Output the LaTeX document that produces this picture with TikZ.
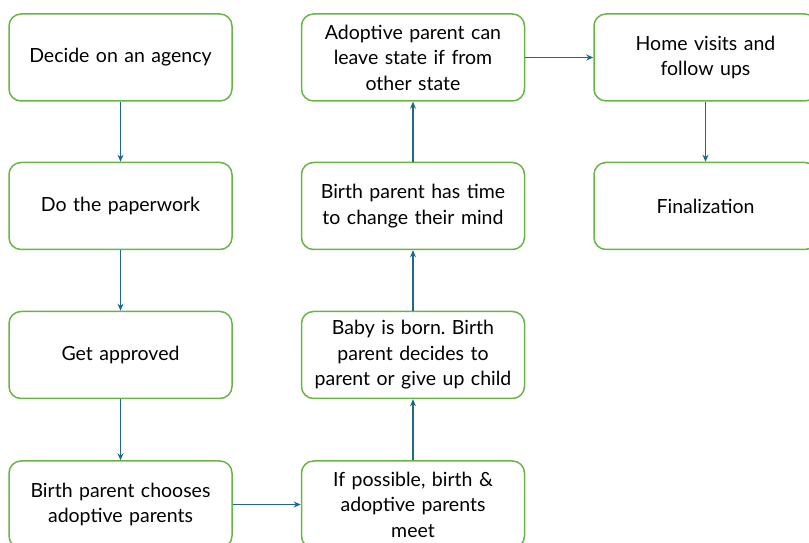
\documentclass[tikz,border=0pt]{standalone}
\usepackage{fontspec}
\setmainfont{Lato}
\usetikzlibrary{arrows.meta}
\definecolor{boxgreen}{RGB}{106,180,70}
\definecolor{linkblue}{RGB}{30,104,138}
\frenchspacing
\tikzset{
  stepbox/.style={draw=boxgreen, line width=1.5pt, rounded corners=12pt, fill=white,
    minimum width=223pt, minimum height=87pt, align=center, text width=215pt,
    font=\fontsize{19.5}{25.5}\selectfont, text=black},
  link/.style={draw=linkblue, line width=1.4pt, -{Stealth[length=7pt,width=6pt]}}
}

\begin{document}
\begin{tikzpicture}[x=1pt, y=1pt]
  \useasboundingbox (0, 0) rectangle (809, 543);

  % first column, top to bottom
  \node [stepbox] (agency) at (120.5, 485.5) {Decide on an agency};
  \node [stepbox] (paperwork) at (120.5, 337) {Do the paperwork};
  \node [stepbox] (approved) at (120.5, 188) {Get approved};
  \node [stepbox] (chooses) at (120.5, 38.5) {Birth parent chooses\\adoptive parents};

  % second column, bottom to top
  \node [stepbox] (meet) at (413, 38.5) {If possible, birth \&\\adoptive parents\\meet};
  \node [stepbox] (born) at (413, 188) {Baby is born. Birth\\parent decides to\\parent or give up child};
  \node [stepbox] (mind) at (413, 337) {Birth parent has time\\to change their mind};
  \node [stepbox] (leave) at (413, 485.5) {Adoptive parent can\\leave state if from\\other state};

  % third column
  \node [stepbox] (visits) at (705.5, 485.5) {Home visits and\\follow ups};
  \node [stepbox] (final) at (705.5, 337) {Finalization};

  \draw [link] (agency) -- (paperwork);
  \draw [link] (paperwork) -- (approved);
  \draw [link] (approved) -- (chooses);
  \draw [link] (chooses) -- (meet);
  \draw [link] (meet) -- (born);
  \draw [link] (born) -- (mind);
  \draw [link] (mind) -- (leave);
  \draw [link] (leave) -- (visits);
  \draw [link] (visits) -- (final);
\end{tikzpicture}
\end{document}
